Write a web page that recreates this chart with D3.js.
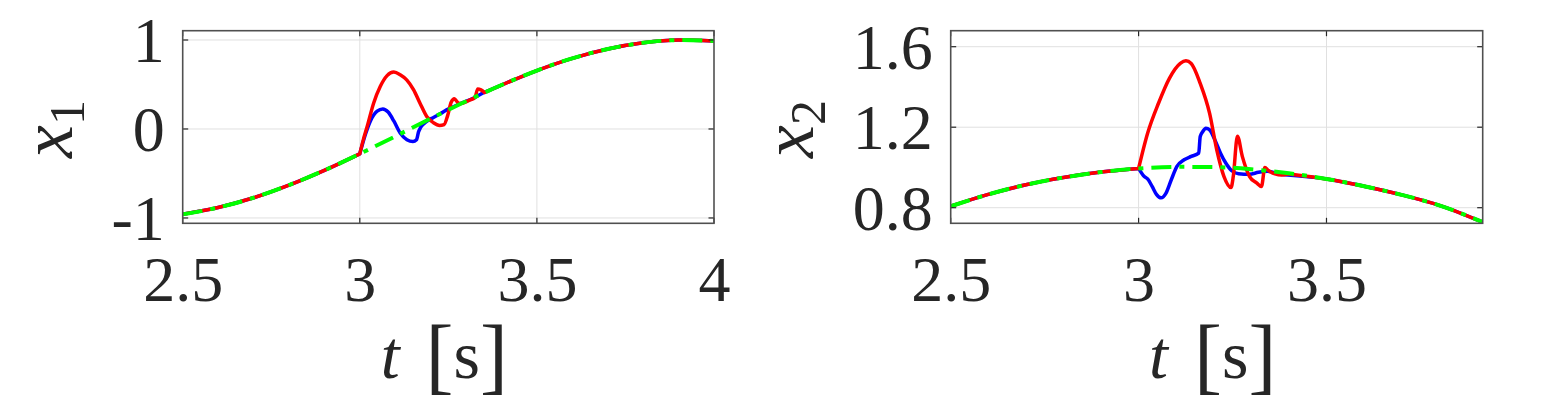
<!DOCTYPE html>
<html>
<head>
<meta charset="utf-8">
<script src="https://cdn.jsdelivr.net/npm/d3@7"></script>
<style>
  html, body { margin: 0; padding: 0; background: #fff; }
  svg { display: block; }
  svg text { font-family: "Liberation Serif", "Times New Roman", Times, "DejaVu Serif", serif; fill: #262626; }
</style>
</head>
<body>
<svg id="chart" width="1559" height="420"></svg>
<script>
// ---------------- DATA ----------------
// Panel 1: x1
const x1RefT = [2.5, 2.6, 2.7, 2.8, 2.9, 3.0, 3.1, 3.2, 3.3, 3.4, 3.5, 3.6, 3.7, 3.8, 3.9, 4.0];
const x1RefV = [-0.959, -0.883, -0.773, -0.631, -0.465, -0.279, -0.083, 0.117, 0.312, 0.494, 0.657, 0.794, 0.899, 0.968, 0.999, 0.989];

const x1RedT = [3.000, 3.010, 3.021, 3.039, 3.058, 3.077, 3.096, 3.114, 3.133, 3.152, 3.170, 3.189, 3.208, 3.225, 3.238, 3.248, 3.258, 3.267, 3.276, 3.285, 3.310, 3.325, 3.333, 3.342, 3.352];
const x1RedV = [-0.279, -0.12, 0.03, 0.29, 0.48, 0.60, 0.64, 0.61, 0.55, 0.44, 0.29, 0.14, 0.07, 0.04, 0.05, 0.15, 0.30, 0.34, 0.30, 0.285, 0.325, 0.352, 0.45, 0.44, 0.41];

const x1BlueT = [3.000, 3.016, 3.030, 3.049, 3.065, 3.080, 3.096, 3.114, 3.133, 3.150, 3.160, 3.166, 3.172, 3.189, 3.208, 3.227, 3.245, 3.264, 3.290, 3.320, 3.345];
const x1BlueV = [-0.279, -0.06, 0.09, 0.20, 0.225, 0.19, 0.09, -0.045, -0.12, -0.14, -0.12, -0.03, 0.02, 0.085, 0.13, 0.17, 0.215, 0.25, 0.295, 0.345, 0.40];

// Panel 2: x2
const x2RefT = [2.5, 2.6, 2.7, 2.8, 2.9, 3.0, 3.1, 3.2, 3.3, 3.4, 3.5, 3.6, 3.7, 3.8, 3.916];
const x2RefV = [0.807, 0.866, 0.914, 0.950, 0.977, 0.995, 1.003, 1.002, 0.991, 0.971, 0.943, 0.907, 0.864, 0.812, 0.728];

const x2RedT = [3.000, 3.024, 3.053, 3.082, 3.111, 3.126, 3.140, 3.164, 3.189, 3.208, 3.227, 3.246, 3.252, 3.263, 3.276, 3.295, 3.314, 3.327, 3.336, 3.345, 3.363, 3.380, 3.400];
const x2RedV = [0.995, 1.170, 1.319, 1.443, 1.517, 1.530, 1.517, 1.418, 1.269, 1.088, 0.956, 0.900, 0.956, 1.155, 1.055, 0.956, 0.923, 0.905, 1.000, 0.985, 0.968, 0.962, 0.968];

const x2BlueT = [3.000, 3.0145, 3.024, 3.036, 3.048, 3.060, 3.073, 3.087, 3.102, 3.121, 3.140, 3.160, 3.164, 3.171, 3.179, 3.189, 3.203, 3.218, 3.232, 3.247, 3.266, 3.295, 3.319, 3.343, 3.372, 3.397];
const x2BlueV = [0.995, 0.956, 0.943, 0.906, 0.865, 0.849, 0.873, 0.939, 1.005, 1.038, 1.055, 1.071, 1.154, 1.179, 1.195, 1.187, 1.137, 1.071, 1.022, 0.985, 0.969, 0.966, 0.976, 0.981, 0.969, 0.962];

// Tick labels
const x1XTicks = [2.5, 3, 3.5, 4];
const x1XTickLabels = ["2.5", "3", "3.5", "4"];
const x1YTicks = [-1, 0, 1];
const x1YTickLabels = ["-1", "0", "1"];
const x2XTicks = [2.5, 3, 3.5];
const x2XTickLabels = ["2.5", "3", "3.5"];
const x2YTicks = [0.8, 1.2, 1.6];
const x2YTickLabels = ["0.8", "1.2", "1.6"];

// ---------------- helpers ----------------
function zipPts(T, V) { return T.map((t, i) => ({ t: t, v: V[i] })); }
// A trajectory = reference up to the perturbation start, the read perturbation,
// then the reference again; kept as separate pieces so the corners stay sharp.
function composePieces(refT, refV, pT, pV) {
  const t0 = pT[0], t1 = pT[pT.length - 1];
  const ref = zipPts(refT, refV);
  const pert = zipPts(pT, pV);
  const before = ref.filter(d => d.t < t0 - 1e-9).concat([pert[0]]);
  const after = [pert[pert.length - 1]].concat(ref.filter(d => d.t > t1 + 0.02));
  return [before, pert, after];
}

const SERIF = '"Liberation Serif", "Times New Roman", Times, "DejaVu Serif", serif';
const svg = d3.select("#chart");
const boxTop = 30.7, boxBottom = 223.3;

const panels = [
  {
    id: "p1", left: 182.7, right: 714, xDomain: [2.5, 4], yDomain: [-1.06, 1.1045],
    xTicks: x1XTicks, xLabels: x1XTickLabels, yTicks: x1YTicks, yLabels: x1YTickLabels,
    ref: zipPts(x1RefT, x1RefV),
    red: composePieces(x1RefT, x1RefV, x1RedT, x1RedV),
    blue: composePieces(x1RefT, x1RefV, x1BlueT, x1BlueV),
    sub: "1", ylabX: 71.7
  },
  {
    id: "p2", left: 950.7, right: 1482.7, xDomain: [2.5, 3.9157], yDomain: [0.7225, 1.6795],
    xTicks: x2XTicks, xLabels: x2XTickLabels, yTicks: x2YTicks, yLabels: x2YTickLabels,
    ref: zipPts(x2RefT, x2RefV),
    red: composePieces(x2RefT, x2RefV, x2RedT, x2RedV),
    blue: composePieces(x2RefT, x2RefV, x2BlueT, x2BlueV),
    sub: "2", ylabX: 813
  }
];

panels.forEach(p => {
  const x = d3.scaleLinear().domain(p.xDomain).range([p.left, p.right]);
  const y = d3.scaleLinear().domain(p.yDomain).range([boxBottom, boxTop]);
  const g = svg.append("g").attr("id", p.id);

  svg.append("clipPath").attr("id", "clip-" + p.id)
    .append("rect").attr("x", p.left).attr("y", boxTop)
    .attr("width", p.right - p.left).attr("height", boxBottom - boxTop);

  // grid
  const grid = g.append("g").attr("stroke", "#e0e0e0").attr("stroke-width", 1);
  grid.selectAll("line.gx").data(p.xTicks.filter(t => t > p.xDomain[0] + 1e-6 && t < p.xDomain[1] - 1e-6))
    .join("line").attr("class", "gx").attr("x1", d => x(d)).attr("x2", d => x(d)).attr("y1", boxTop).attr("y2", boxBottom);
  grid.selectAll("line.gy").data(p.yTicks)
    .join("line").attr("class", "gy").attr("x1", p.left).attr("x2", p.right).attr("y1", d => y(d)).attr("y2", d => y(d));

  // lines
  const line = d3.line().x(d => x(d.t)).y(d => y(d.v)).curve(d3.curveMonotoneX);
  const lg = g.append("g").attr("clip-path", "url(#clip-" + p.id + ")").attr("fill", "none")
    .attr("stroke-linejoin", "round").attr("stroke-linecap", "round");
  lg.append("path").attr("d", p.blue.map(piece => line(piece)).join(" "))
    .attr("stroke", "#0000ff").attr("stroke-width", 3.5);
  lg.append("path").attr("d", p.red.map(piece => line(piece)).join(" "))
    .attr("stroke", "#ff0000").attr("stroke-width", 3.5);
  lg.append("path").attr("d", line(p.ref)).attr("stroke", "#00ff00").attr("stroke-width", 4)
    .attr("stroke-linecap", "butt").attr("stroke-dasharray", "20,8,5,8");

  // ticks (inward, all four sides)
  const tk = g.append("g").attr("stroke", "#262626").attr("stroke-width", 1.2);
  const tl = 5.5;
  p.xTicks.forEach(t => {
    tk.append("line").attr("x1", x(t)).attr("x2", x(t)).attr("y1", boxBottom).attr("y2", boxBottom - tl);
    tk.append("line").attr("x1", x(t)).attr("x2", x(t)).attr("y1", boxTop).attr("y2", boxTop + tl);
  });
  p.yTicks.forEach(v => {
    tk.append("line").attr("x1", p.left).attr("x2", p.left + tl).attr("y1", y(v)).attr("y2", y(v));
    tk.append("line").attr("x1", p.right).attr("x2", p.right - tl).attr("y1", y(v)).attr("y2", y(v));
  });

  // box
  g.append("rect").attr("x", p.left).attr("y", boxTop)
    .attr("width", p.right - p.left).attr("height", boxBottom - boxTop)
    .attr("fill", "none").attr("stroke", "#505050").attr("stroke-width", 1.6);

  // tick labels via d3 axes
  const xAxis = d3.axisBottom(x).tickValues(p.xTicks).tickFormat((d, i) => p.xLabels[i]).tickSize(0);
  const xa = g.append("g").attr("transform", `translate(0,${boxBottom})`).call(xAxis)
    .attr("font-family", SERIF).attr("font-size", 64);
  xa.select(".domain").remove();
  xa.selectAll("text").attr("y", 78).attr("dy", null).attr("fill", "#262626");

  const yAxis = d3.axisLeft(y).tickValues(p.yTicks).tickFormat((d, i) => p.yLabels[i]).tickSize(0);
  const ya = g.append("g").attr("transform", `translate(${p.left},0)`).call(yAxis)
    .attr("font-family", SERIF).attr("font-size", 64);
  ya.select(".domain").remove();
  ya.selectAll("text").attr("x", -18).attr("dy", "0.34em").attr("fill", "#262626");

  // y label
  const yl = g.append("text")
    .attr("transform", `translate(${p.ylabX},${(boxTop + boxBottom) / 2 + 2}) rotate(-90)`)
    .attr("text-anchor", "middle").attr("font-family", SERIF);
  yl.append("tspan").text("x").attr("font-style", "italic").attr("font-size", 74);
  yl.append("tspan").text(p.sub).attr("dy", 12).attr("font-size", 50);

  // x label: t [s]
  const xl = g.append("text")
    .attr("x", (p.left + p.right) / 2 - 4).attr("y", 378)
    .attr("text-anchor", "middle").attr("font-family", SERIF).attr("font-size", 68);
  xl.append("tspan").text("t").attr("font-style", "italic");
  xl.append("tspan").text("[").attr("dx", 26).attr("font-size", 84).attr("baseline-shift", "-6");
  xl.append("tspan").text("s");
  xl.append("tspan").text("]").attr("font-size", 84).attr("baseline-shift", "-6");
});
</script>
</body>
</html>
